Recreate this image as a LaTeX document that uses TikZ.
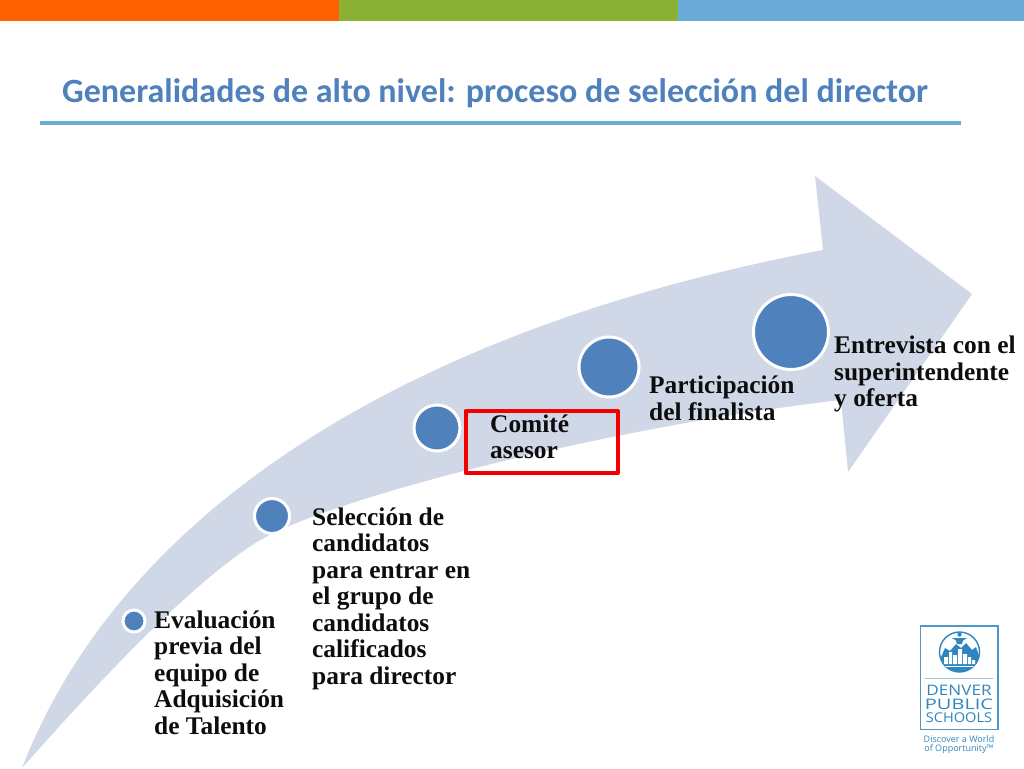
\documentclass[tikz,border=0pt]{standalone}
\usepackage{fontspec}
\setmainfont{Liberation Serif}
\newfontfamily\titlefont{Carlito}
\newfontfamily\logofont{Open Sans}
\definecolor{barorange}{HTML}{FF6000}
\definecolor{bargreen}{HTML}{8AB133}
\definecolor{barblue}{HTML}{6AACD7}
\definecolor{titleblue}{HTML}{4F81BD}
\definecolor{arrowfill}{HTML}{D0D8E8}
\definecolor{logoblue}{HTML}{2F86BE}
\tikzset{
  x=1pt,y=-1pt,
  bar/.style={fill=#1,draw=none},
  dot/.style={circle,fill=titleblue,draw=white,line width=3pt,inner sep=0pt,minimum size=#1},
  steptext/.style={anchor=north west,inner sep=0pt,align=left,font=\fontsize{25.4}{26.5}\selectfont\bfseries,text=black!95},
  logotext/.style={inner sep=0pt,text=logoblue}
}
\begin{document}
\begin{tikzpicture}
\useasboundingbox (0,0) rectangle (1024,768);
\fill[white] (0,0) rectangle (1024,768);
\fill[bar=barorange] (0,0) rectangle (339,21);
\fill[bar=bargreen] (339,0) rectangle (678,21);
\fill[bar=barblue] (678,0) rectangle (1024,21);
\node[anchor=west,inner sep=0pt,text=titleblue,font=\fontsize{34}{38}\selectfont\bfseries\titlefont] (title) at (62,93.5) {Generalidades de alto nivel: proceso de selección del director};
\draw[barblue,line width=4pt] (40,123) -- (961,123);
% big curved arrow
\fill[arrowfill] (22,768) .. controls (120,515) and (400,330) .. (823,250)
  -- (815,176) -- (972,294) -- (848,472) -- (841,400)
  .. controls (620,425) and (330,497) .. (257,542)
  .. controls (190,584) and (100,680) .. (22,768) -- cycle;
% dots
\node[dot=22pt] (d1) at (134,621) {};
\node[dot=35pt] (d2) at (272,516) {};
\node[dot=46pt] (d3) at (437,428) {};
\node[dot=60pt] (d4) at (609,367) {};
\node[dot=75pt] (d5) at (791,332) {};
% red box
\draw[red!95!black,line width=4pt,line join=round] (465.5,411) rectangle (618,473);
% texts
\node[steptext] (t1) at (154,610.5) {Evaluación\\previa del\\equipo de\\Adquisición\\de Talento};
\node[steptext] (t2) at (312,507.5) {Selección de\\candidatos\\para entrar en\\el grupo de\\candidatos\\calificados\\para director};
\node[steptext] (t3) at (490,414.5) {Comité\\asesor};
\node[steptext] (t4) at (649,376) {Participación\\del finalista};
\node[steptext] (t5) at (834,336) {Entrevista con el\\superintendente\\y oferta};
% logo
\draw[logoblue!85,line width=1.2pt] (920.5,626) rectangle (998,729.5);
\fill[white,draw=logoblue,line width=1.4pt] (959.5,652) circle (20);
\begin{scope}
\clip (959.5,652) circle (20);
\fill[logoblue] (938,664) -- (945,648) -- (950,651) -- (956,644) -- (961,648) -- (966,643) -- (972,650) -- (976,647) -- (982,664) -- (982,675) -- (938,675) -- cycle;
\fill[white] (944,664) rectangle (948,657) (949,664) rectangle (952,652) (953,664) rectangle (957,655) (958,664) rectangle (962,649) (963,664) rectangle (967,654) (968,664) rectangle (971,657) (972,664) rectangle (975,660);
\fill[white] (940,665.5) rectangle (979,666.5);
\end{scope}
\fill[logoblue] (952,638) -- (967,638) -- (963,640.5) -- (962,644) -- (957,644) -- (956,640.5) -- cycle;
\fill[logoblue] (959.5,634.5) circle (2.2);
\draw[logoblue!50,line width=0.5pt] (925,678) -- (993,678);
\node[logotext,font=\fontsize{14.5}{15}\selectfont\logofont] (l1) at (959,690) {\scalebox{1.18}[1]{DENVER}};
\node[logotext,font=\fontsize{14.5}{15}\selectfont\logofont] (l2) at (959,704) {\scalebox{1.38}[1]{PUBLIC}};
\node[logotext,font=\fontsize{13.5}{14}\selectfont\logofont] (l3) at (959,718) {\scalebox{1.08}[1]{SCHOOLS}};
\node[logotext,font=\fontsize{9}{10}\selectfont\logofont] (l4) at (959,739) {Discover a World};
\node[logotext,font=\fontsize{9}{10}\selectfont\logofont] (l5) at (959,749) {of Opportunity™};
\end{tikzpicture}
\end{document}
